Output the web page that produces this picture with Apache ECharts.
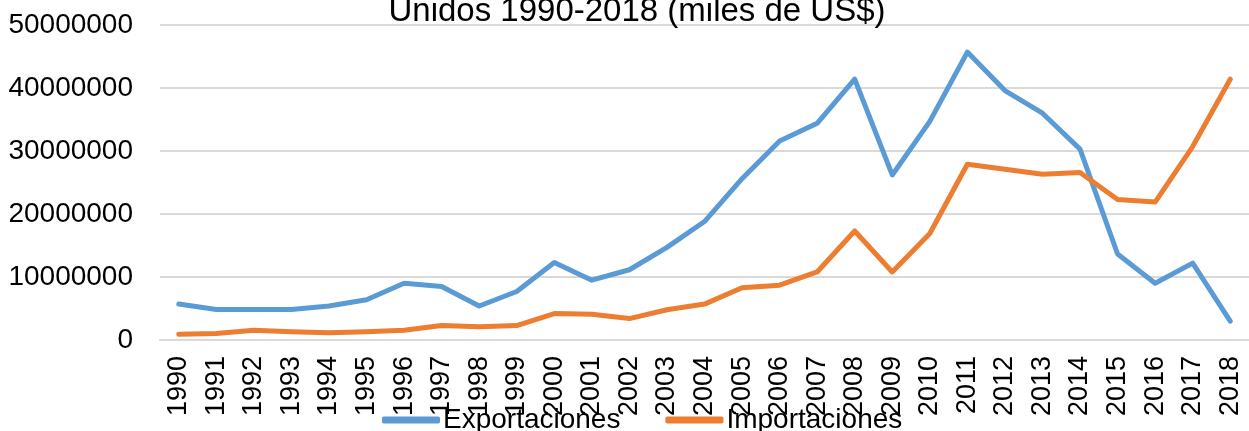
<!DOCTYPE html>
<html>
<head>
<meta charset="utf-8">
<script src="https://cdn.jsdelivr.net/npm/echarts@6/dist/echarts.min.js"></script>
<style>
html,body{margin:0;padding:0;background:#fff;}
#c{width:1249px;height:431px;}
</style>
</head>
<body>
<div id="c"></div>
<script>
const years = ['1990','1991','1992','1993','1994','1995','1996','1997','1998','1999','2000','2001','2002','2003','2004','2005','2006','2007','2008','2009','2010','2011','2012','2013','2014','2015','2016','2017','2018'];
const exportaciones = [5700000,4850000,4850000,4850000,5400000,6400000,9000000,8500000,5400000,7700000,12300000,9500000,11150000,14700000,18800000,25600000,31600000,34400000,41400000,26200000,34700000,45700000,39600000,36000000,30300000,13650000,9000000,12200000,3000000];
const importaciones = [900000,1050000,1550000,1300000,1160000,1300000,1550000,2300000,2100000,2300000,4200000,4100000,3400000,4800000,5700000,8300000,8700000,10800000,17300000,10800000,16900000,27900000,27100000,26300000,26600000,22300000,21900000,30700000,41400000];
const seriesNames = ['Exportaciones','Importaciones'];
const titleText = 'Unidos 1990-2018 (miles de US$)';

const chart = echarts.init(document.getElementById('c'), null, {renderer:'canvas'});
const font = 'Liberation Sans, Arial, sans-serif';
chart.setOption({
  animation:false,
  backgroundColor:'#ffffff',
  title:{
    text:titleText,
    left:632, top:-10, textAlign:'center',
    textStyle:{fontFamily:font,fontSize:33,fontWeight:'normal',color:'#000',lineHeight:33}
  },
  legend:{
    data:seriesNames,
    left:377, top:401,
    itemWidth:58, itemHeight:7, itemGap:45,
    icon:'roundRect',
    textStyle:{fontFamily:font,fontSize:28,color:'#000',lineHeight:28,padding:[0,0,0,-2]}
  },
  grid:{left:160,right:-7,top:25,bottom:91,containLabel:false},
  xAxis:{
    type:'category',
    data:years,
    boundaryGap:true,
    axisLine:{show:true,lineStyle:{color:'#d9d9d9',width:2}},
    axisTick:{show:false},
    axisLabel:{rotate:90,margin:16,interval:0,fontFamily:font,fontSize:27,color:'#000'}
  },
  yAxis:{
    type:'value',
    min:0,max:50000000,interval:10000000,
    axisLine:{show:false},
    axisTick:{show:false},
    splitLine:{lineStyle:{color:'#d9d9d9',width:2}},
    axisLabel:{margin:27,fontFamily:font,fontSize:28,color:'#000',formatter:function(v){return String(v);}}
  },
  series:[
    {name:seriesNames[0],type:'line',data:exportaciones,symbol:'none',
     color:'#5B9BD5',lineStyle:{width:5,color:'#5B9BD5',cap:'round',join:'round'}},
    {name:seriesNames[1],type:'line',data:importaciones,symbol:'none',
     color:'#ED7D31',lineStyle:{width:5,color:'#ED7D31',cap:'round',join:'round'}}
  ]
});
</script>
</body>
</html>
